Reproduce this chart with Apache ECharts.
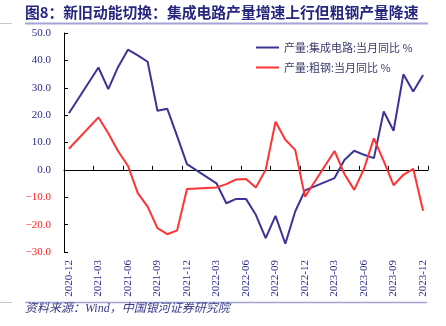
<!DOCTYPE html>
<html>
<head>
<meta charset="utf-8">
<script src="https://cdn.jsdelivr.net/npm/echarts@6/dist/echarts.min.js"></script>
<style>html,body{margin:0;padding:0;background:#fff}#c{width:446px;height:326px}</style>
</head>
<body>
<div id="c"></div>
<script>
var categories = ['2020-12',
 '2021-01','2021-02','2021-03','2021-04','2021-05','2021-06','2021-07','2021-08','2021-09','2021-10','2021-11','2021-12',
 '2022-01','2022-02','2022-03','2022-04','2022-05','2022-06','2022-07','2022-08','2022-09','2022-10','2022-11','2022-12',
 '2023-01','2023-02','2023-03','2023-04','2023-05','2023-06','2023-07','2023-08','2023-09','2023-10','2023-11','2023-12'];
var icOutput = [20.7,
 null,null,37.4,29.5,37.6,43.9,41.8,39.5,21.6,22.3,12.3,2.1,
 null,null,-4.9,-12.2,-10.6,-10.6,-16.4,-24.9,-16.8,-27.0,-15.2,-7.5,
 null,null,-3.0,3.6,7.0,5.5,4.3,21.3,14.3,34.9,28.6,34.7];
var steelOutput = [7.7,
 null,null,19.2,13.4,6.8,1.5,-8.5,-13.4,-21.3,-23.5,-22.1,-7.0,
 null,null,-6.4,-5.2,-3.5,-3.3,-6.4,0.0,17.6,11.0,7.3,-9.8,
 null,null,6.9,-1.5,-7.3,0.4,11.5,3.2,-5.6,-1.8,0.4,-14.9];
var seriesNames = ['产量:集成电路:当月同比 %', '产量:粗钢:当月同比 %'];
var yMin = -30, yMax = 50, yStep = 10;
var titleText = '图8：新旧动能切换：集成电路产量增速上行但粗钢产量降速';
var sourceText = '资料来源：Wind，中国银河证券研究院';

var navy = '#2a2a8a';
var chart = echarts.init(document.getElementById('c'));
chart.setOption({
  animation: false,
  backgroundColor: '#fff',
  grid: {left: 64, right: 18, top: 33, bottom: 74, containLabel: false},
  legend: {
    orient: 'vertical', left: 251, top: 37, itemWidth: 23, itemHeight: 2, itemGap: 9,
    icon: 'rect',
    textStyle: {fontSize: 11, color: '#3a3a6a', fontFamily: 'Noto Sans CJK SC'},
    data: seriesNames
  },
  xAxis: [{
    type: 'category', data: categories, position: 'bottom', boundaryGap: true,
    axisLine: {show: false, onZero: false},
    axisTick: {show: false},
    axisLabel: {interval: 2, rotate: 90, margin: 8, fontSize: 11, fontFamily: 'Liberation Serif', color: navy}
  }, {
    type: 'category', data: categories, position: 'top', boundaryGap: true,
    axisLine: {show: true, onZero: true, lineStyle: {color: '#000', width: 1}},
    axisTick: {show: true, inside: false, length: 4, interval: 2, lineStyle: {color: '#000'}},
    axisLabel: {show: false}
  }],
  yAxis: {
    type: 'value', min: yMin, max: yMax, interval: yStep,
    axisLine: {show: true, lineStyle: {color: '#000', width: 1}},
    axisTick: {show: true, inside: true, length: 4, lineStyle: {color: '#000'}},
    splitLine: {show: false},
    axisLabel: {
      margin: 13, fontSize: 11, fontFamily: 'Liberation Serif',
      formatter: function (v) { return v.toFixed(1).replace('-', '\u2212'); },
      color: function (v) { return Number(v) < 0 ? '#ff2020' : navy; }
    }
  },
  series: [{
    name: seriesNames[0], type: 'line', data: icOutput, connectNulls: true,
    symbol: 'none', lineStyle: {color: '#3b3497', width: 2}, itemStyle: {color: '#3b3497'}
  }, {
    name: seriesNames[1], type: 'line', data: steelOutput, connectNulls: true,
    symbol: 'none', lineStyle: {color: '#ff3333', width: 2}, itemStyle: {color: '#ff3333'}
  }],
  graphic: [
    {type: 'text', left: 25, top: 5, style: {text: titleText, font: 'bold 14.8px "Noto Sans CJK SC"', fill: '#262680'}},
    {type: 'line', shape: {x1: 25, y1: 23.5, x2: 428, y2: 23.5}, style: {stroke: '#a4a4d4', lineWidth: 2}},
    {type: 'line', shape: {x1: 0, y1: 23.5, x2: 12, y2: 23.5}, style: {stroke: '#c8c8c8', lineWidth: 1}},
    {type: 'line', shape: {x1: 25, y1: 302.5, x2: 427, y2: 302.5}, style: {stroke: '#a4a4d4', lineWidth: 1.5}},
    {type: 'line', shape: {x1: 0, y1: 302.5, x2: 12, y2: 302.5}, style: {stroke: '#c8c8c8', lineWidth: 1}},
    {type: 'text', left: 25, top: 303, style: {text: sourceText, font: 'italic 12px "Liberation Serif", "Noto Sans CJK SC"', fill: '#3a3a8a'}}
  ]
});
</script>
</body>
</html>
